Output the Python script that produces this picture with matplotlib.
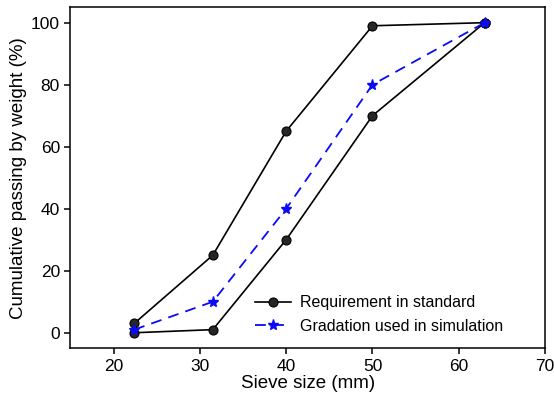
import matplotlib.pyplot as plt

plt.rcParams['font.family'] = ['Liberation Sans', 'DejaVu Sans']

sieve_size = [22.4, 31.5, 40, 50, 63]
upper_limit = [3, 25, 65, 99, 100]
lower_limit = [0, 1, 30, 70, 100]
simulation = [1, 10, 40, 80, 100]

fig, ax = plt.subplots(figsize=(5.54, 3.98), dpi=100)
fig.subplots_adjust(left=0.127, right=0.984, top=0.982, bottom=0.125)

sphere = dict(color='black', lw=1.2, marker='o', markersize=6.5,
              markerfacecolor='#262626', markeredgecolor='black', markeredgewidth=0.8)
ax.plot(sieve_size, upper_limit, label='Requirement in standard', **sphere)
ax.plot(sieve_size, lower_limit, **sphere)
ax.plot(sieve_size, simulation, color='#0a0af5', lw=1.3, ls=(0, (6, 4)),
        marker='*', markersize=8, label='Gradation used in simulation')

ax.set_xlim(15, 70)
ax.set_ylim(-5, 105)
ax.set_xticks([20, 30, 40, 50, 60, 70])
ax.set_yticks([0, 20, 40, 60, 80, 100])
for side in ax.spines.values():
    side.set_linewidth(1.1)
ax.tick_params(direction='out', length=4, width=1.1, labelsize=12.5)
ax.set_xlabel('Sieve size (mm)', fontsize=13.5, labelpad=1)
ax.set_ylabel('Cumulative passing by weight (%)', fontsize=13.5, labelpad=3)
ax.legend(loc='lower right', bbox_to_anchor=(0.942, 0.0), frameon=False,
          fontsize=11.5, handlelength=2.2, handletextpad=0.6, labelspacing=0.55)

fig.savefig('out.png')
